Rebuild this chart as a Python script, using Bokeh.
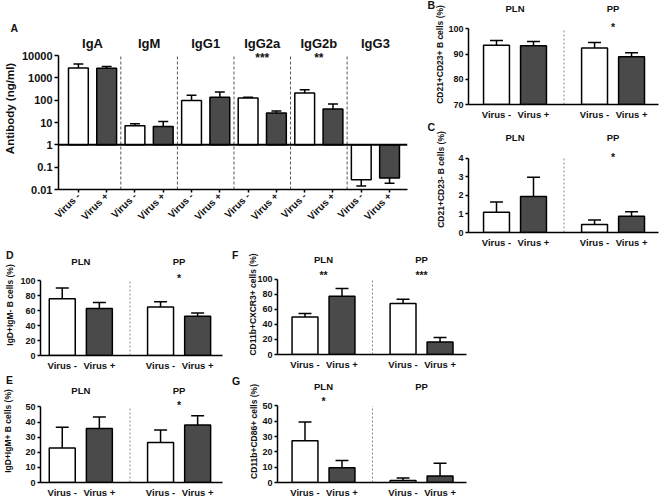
import math
from bokeh.plotting import figure
from bokeh.models import Range1d, FixedTicker, CustomJSTickFormatter, Label, Span
from bokeh.layouts import column, row
from bokeh.embed import file_html
from bokeh.resources import INLINE

# ---------------- data ----------------
a_isotypes = ["IgA", "IgM", "IgG1", "IgG2a", "IgG2b", "IgG3"]
a_neg = [2750, 7.1, 97, 124, 208, 0.027]
a_neg_err = [4150, 8.7, 168, 137, 293, 0.0145]
a_pos = [2700, 6.6, 137, 26.5, 40, 0.033]
a_pos_err = [3250, 11, 230, 33, 67, 0.019]
a_sig = ["", "", "", "***", "**", ""]
a_yticks = [0.01, 0.1, 1, 10, 100, 1000, 10000]

groups = ["PLN", "PP"]
xlabels = ["Virus -", "Virus +"]

b_vals = [93.5, 93.3, 92.4, 89.0]
b_err = [95.4, 95.0, 94.6, 90.5]
b_sig = ["", "*"]
b_yticks = [70, 80, 90, 100]

c_vals = [1.09, 1.93, 0.43, 0.87]
c_err = [1.64, 2.97, 0.67, 1.11]
c_sig = ["", "*"]
c_yticks = [0, 1, 2, 3, 4]

d_vals = [76, 63, 65, 52.5]
d_err = [90.5, 71, 72, 57]
d_sig = ["", "*"]
d_yticks = [0, 20, 40, 60, 80, 100]

e_vals = [22.9, 35.7, 26.5, 38.1]
e_err = [36.6, 43.3, 34.8, 44.2]
e_sig = ["", "*"]
e_yticks = [0, 10, 20, 30, 40, 50]

f_vals = [50, 77.7, 68, 16.8]
f_err = [54.7, 88, 73.7, 22.7]
f_sig = ["**", "***"]
f_yticks = [0, 20, 40, 60, 80, 100]

g_vals = [27.3, 9.7, 1.3, 4.3]
g_err = [39.5, 14.4, 3.0, 12.5]
g_sig = ["*", ""]
g_yticks = [0, 10, 20, 30, 40, 50]

# ---------------- styling ----------------
FONT = "Liberation Sans"
WHITE = "#ffffff"
DARK = "#4a4a4a"
LETTER_SIZE = 10.5


def make_panel(box, frame, c0, ppx, y0, ppy, letter, letter_left, log=False):
    bx0, by0, bx1, by1 = box
    fx0, fy0, fx1, fy1 = frame
    W = round(bx1 - bx0)
    H = round(by1 - by0)
    bl = round(fx0 - bx0)
    bt = round(fy0 - by0)
    fw = round(fx1 - fx0)
    fh = round(fy1 - fy0)
    br = W - bl - fw
    bb = H - bt - fh
    xr = Range1d((fx0 - c0) / ppx, (fx1 - c0) / ppx)
    ytop = y0 + (fy1 - fy0) / ppy
    yr = Range1d(10 ** y0, 10 ** ytop) if log else Range1d(y0, ytop)
    p = figure(width=W, height=H, x_range=xr, y_range=yr,
               y_axis_type="log" if log else "linear",
               output_backend="svg", toolbar_location=None,
               min_border_left=bl, min_border_right=br,
               min_border_top=bt, min_border_bottom=bb)
    p.grid.visible = False
    p.outline_line_color = None
    p.background_fill_color = "white"
    p.border_fill_color = "white"
    # panel letter as the plot title, pulled down next to the frame corner
    p.title.text = letter
    p.title.align = "left"
    p.title.offset = letter_left - fx0
    p.title.standoff = -(2 + LETTER_SIZE * 1.12)
    p.title.text_font = FONT
    p.title.text_font_style = "bold"
    p.title.text_font_size = f"{LETTER_SIZE}px"
    p.title.text_color = "#111111"

    def to_data(px, py):
        x = (px - c0) / ppx
        v = y0 + (fy1 - py) / ppy
        return x, (10 ** v if log else v)

    for ax in (p.xaxis[0], p.yaxis[0]):
        ax.axis_line_width = 1.5
        ax.axis_line_color = "black"
        ax.major_tick_line_width = 1.5
        ax.major_tick_line_color = "black"
        ax.major_tick_in = 0
        ax.major_tick_out = 3
        ax.minor_tick_line_color = None
        ax.major_label_text_font = FONT
        ax.major_label_text_font_style = "bold"
        ax.major_label_text_color = "#111111"
        ax.axis_label_text_font = FONT
        ax.axis_label_text_font_style = "bold"
        ax.axis_label_text_color = "#111111"
    p.yaxis.major_label_standoff = 2
    p.yaxis.axis_label_standoff = 3
    return p, to_data


def label(p, x, y, text, size):
    p.add_layout(Label(x=x, y=y, text=text, text_font=FONT, text_font_style="bold",
                       text_font_size=size, text_align="center", text_baseline="middle",
                       text_color="#111111"))


def draw_bars(p, xs, vals, errs, base, colors, bw):
    cap = bw * 0.25
    p.segment(x0=xs, y0=vals, x1=xs, y1=errs, line_color="black", line_width=1.5)
    p.segment(x0=[x - cap for x in xs], y0=errs, x1=[x + cap for x in xs], y1=errs,
              line_color="black", line_width=1.5)
    p.vbar(x=xs, width=bw, bottom=base, top=vals, fill_color=colors,
           line_color="black", line_width=1.5)


# ---------------- panel A ----------------
pA, dA = make_panel((0, 0, 426, 250), (56, 27, 407, 189), 76, 28.45, -2, 22.33,
                    "A", 8, log=True)
xsA = list(range(2 * len(a_isotypes)))
valsA, errsA, colsA = [], [], []
for i in range(len(a_isotypes)):
    valsA += [a_neg[i], a_pos[i]]
    errsA += [a_neg_err[i], a_pos_err[i]]
    colsA += [WHITE, DARK]
sepsA = [2 * i + 1.5 for i in range(len(a_isotypes) - 1)]
pA.segment(x0=sepsA, y0=[a_yticks[0]] * len(sepsA), x1=sepsA, y1=[a_yticks[-1]] * len(sepsA),
           line_color="#555555", line_width=1, line_dash="3 2")
draw_bars(pA, xsA, valsA, errsA, 1, colsA, 0.7)
pA.add_layout(Span(location=1, dimension="width", line_color="black", line_width=2))
pA.yaxis.ticker = FixedTicker(ticks=a_yticks)
pA.yaxis.formatter = CustomJSTickFormatter(code="return String(tick)")
pA.yaxis.bounds = (a_yticks[0], a_yticks[-1])
pA.yaxis.major_label_text_font_size = "11px"
pA.yaxis.major_tick_out = 4
pA.yaxis.axis_label = "Antibody (ng/ml)"
pA.yaxis.axis_label_text_font_size = "11.5px"
pA.xaxis.ticker = FixedTicker(ticks=xsA)
pA.xaxis.formatter = CustomJSTickFormatter(args=dict(labels=xlabels * len(a_isotypes)),
                                           code="return labels[index]")
pA.xaxis.major_label_orientation = math.pi / 4
pA.xaxis.major_label_text_font_size = "10px"
pA.xaxis.major_label_standoff = 2
for i, name in enumerate(a_isotypes):
    cx = 2 * i + 0.5
    _, hy = dA(0, 43)
    label(pA, cx, hy, name, "13px")
    if a_sig[i]:
        _, sy = dA(0, 57.5)
        label(pA, cx, sy, a_sig[i], "12px")


# ---------------- two-group panels ----------------
POS = [0, 1, 2.65, 3.65]
BW = 0.7


def group_panel(box, frame, c0, ppx, y0, ppy, vals, errs, sig, yticks, ytitle,
                title_standoff, letter, letter_left, head_y, star_y):
    p, conv = make_panel(box, frame, c0, ppx, y0, ppy, letter, letter_left)
    sep = (POS[1] + POS[2]) / 2
    p.segment(x0=[sep], y0=[yticks[0]], x1=[sep], y1=[yticks[-1]],
              line_color="#8a8a8a", line_width=1, line_dash="2 2")
    draw_bars(p, POS, vals, errs, yticks[0], [WHITE, DARK, WHITE, DARK], BW)
    p.yaxis.ticker = FixedTicker(ticks=yticks)
    p.yaxis.bounds = (yticks[0], yticks[-1])
    p.yaxis.major_label_text_font_size = "9px"
    p.yaxis.axis_label = ytitle
    p.yaxis.axis_label_text_font_size = "8.5px"
    p.yaxis.axis_label_standoff = title_standoff
    p.xaxis.ticker = FixedTicker(ticks=POS)
    p.xaxis.formatter = CustomJSTickFormatter(args=dict(labels=xlabels * 2),
                                              code="return labels[index]")
    p.xaxis.major_tick_out = 0
    p.xaxis.major_label_standoff = 4
    p.xaxis.major_label_text_font_size = "9.5px"
    for gi, g in enumerate(groups):
        cx = (POS[2 * gi] + POS[2 * gi + 1]) / 2
        _, hy = conv(0, head_y)
        label(p, cx, hy, g, "9.5px")
        if sig[gi]:
            _, sy = conv(0, star_y)
            label(p, cx, sy, sig[gi], "10.5px")
    return p


pB = group_panel((426, 0, 669, 122), (468, 4, 658, 106), 496, 37, 70, 2.57,
                 b_vals, b_err, b_sig, b_yticks, "CD21+CD23+ B cells (%)", 0,
                 "B", 427, 8.5, 26.5)
pC = group_panel((426, 122, 669, 250), (468, 126, 658, 237), 496, 37, 0, 19.5,
                 c_vals, c_err, c_sig, c_yticks, "CD21+CD23- B cells (%)", 9,
                 "C", 427, 137, 158)
pD = group_panel((0, 250, 226, 373), (38, 254, 222, 357.5), 60, 37.5, 0, 0.765,
                 d_vals, d_err, d_sig, d_yticks, "IgD+IgM- B cells (%)", 2,
                 "D", 3.5, 261, 278.5)
pE = group_panel((0, 373, 226, 500), (38, 379, 222, 483.3), 60, 37.5, 0, 1.53,
                 e_vals, e_err, e_sig, e_yticks, "IgD+IgM+ B cells (%)", 9,
                 "E", 3.5, 390, 404.5)
pF = group_panel((226, 250, 669, 373), (277, 254, 466, 354.3), 304.5, 37, 0, 0.753,
                 f_vals, f_err, f_sig, f_yticks, "CD11b+CXCR3+ cells (%)", -4,
                 "F", 231.5, 259.5, 274.5)
pG = group_panel((226, 373, 669, 500), (277, 380, 466, 483.3), 304.5, 37, 0, 1.55,
                 g_vals, g_err, g_sig, g_yticks, "CD11b+CD86+ cells (%)", 0,
                 "G", 231.5, 386, 400.5)

layout = column(row(pA, column(pB, pC)), row(column(pD, pE), column(pF, pG)))

open("out.html", "w").write(file_html(layout, INLINE))
